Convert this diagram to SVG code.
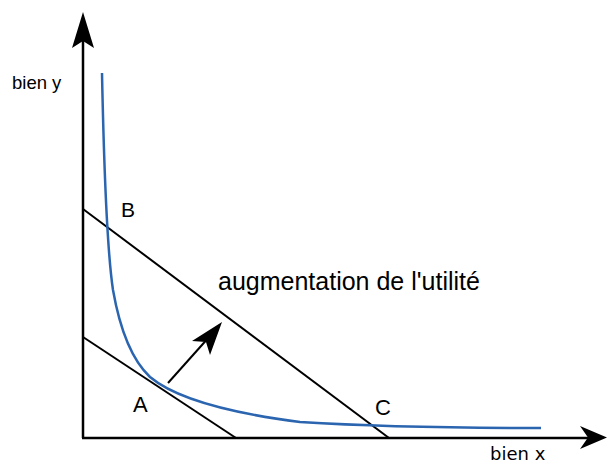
<svg xmlns="http://www.w3.org/2000/svg" width="607" height="463" viewBox="0 0 607 463">
<style>
.axis{stroke:#000;stroke-width:2.5;fill:none}
.budget{stroke:#000;stroke-width:2;fill:none}
.curve{stroke:#2b65b0;stroke-width:2.5;fill:none}
.lbl{font-family:"Liberation Sans",Arial,sans-serif;fill:#000}
.head{fill:#000}
</style>
<rect width="607" height="463" fill="#fff"/>
<g id="connectors">
<line class="axis" x1="83" y1="40" x2="83" y2="438"/>
<line class="axis" x1="82" y1="438" x2="590" y2="438"/>
<polygon class="head" points="83,12 94,48 83,41 72,48"/>
<polygon class="head" points="607,437.5 580,449 588,437.5 580,426"/>
<line class="budget" x1="83" y1="209" x2="389" y2="438"/>
<line class="budget" x1="83" y1="337" x2="236" y2="438"/>
<line class="budget" x1="168" y1="383" x2="210" y2="336"/>
<polygon class="head" points="222,322 210,355 206,342 192,341"/>
</g>
<g id="curve">
<path class="curve" d="M102,73 C104,170 107,250 113,290 C120,330 132,360 150,377 C175,398 230,413 300,422 C380,427 460,428 541,428"/>
</g>
<g id="label-bien-y"><text class="lbl" x="12" y="89" font-size="18.5">bien y</text></g>
<g id="label-bien-x"><text x="490" y="460" font-size="18" font-family="DejaVu Sans, sans-serif">bien x</text></g>
<g id="label-B"><text class="lbl" x="121" y="217" font-size="21">B</text></g>
<g id="label-A"><text class="lbl" x="133" y="412" font-size="22">A</text></g>
<g id="label-C"><text class="lbl" x="375" y="415" font-size="22">C</text></g>
<g id="label-aug"><text class="lbl" x="218" y="290" font-size="25">augmentation de l'utilité</text></g>
</svg>
